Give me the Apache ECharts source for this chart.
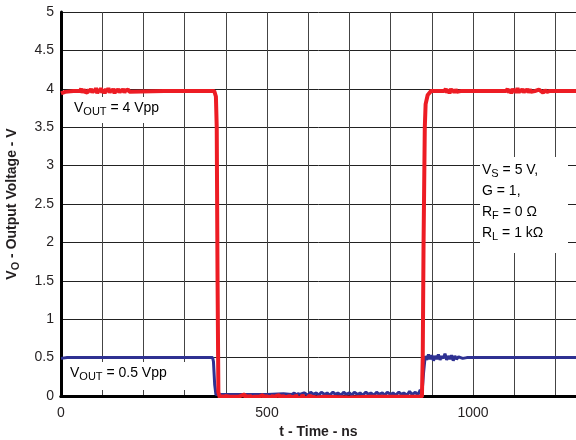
<!DOCTYPE html>
<html>
<head>
<meta charset="utf-8">
<script src="https://cdn.jsdelivr.net/npm/echarts@6/dist/echarts.min.js"></script>
<style>
    html, body { margin: 0; padding: 0; background: #fff; }
    #chart { width: 576px; height: 440px; }
</style>
</head>
<body>
<div id="chart"></div>
<script>
// 时间轴 (ns) 与电压 (V)
const xTicks = [0, 500, 1000];
const yTicks = [0, 0.5, 1, 1.5, 2, 2.5, 3, 3.5, 4, 4.5, 5];

// VOUT = 4 Vpp (red)
const redTime = [
    0, 10, 30, 46, 49, 52, 55, 58, 61, 64,
    67, 70, 73, 76, 79, 82, 85, 88, 91, 94,
    97, 100, 103, 106, 109, 112, 115, 118, 121, 124,
    127, 130, 133, 136, 139, 142, 145, 148, 151, 154,
    157, 160, 163, 166, 170, 250, 372, 376, 378, 380,
    382, 386, 390, 394, 398, 402, 410, 430, 446, 449,
    452, 455, 458, 461, 470, 480, 490, 494, 498, 502,
    506, 510, 514, 518, 522, 526, 530, 534, 538, 542,
    546, 550, 554, 558, 562, 566, 570, 574, 578, 582,
    586, 590, 594, 598, 602, 606, 610, 620, 640, 700,
    750, 800, 876, 878, 880, 883, 885, 890, 898, 930,
    934, 937, 940, 943, 946, 949, 952, 955, 958, 961,
    964, 970, 1080, 1084, 1087, 1090, 1093, 1096, 1099, 1102,
    1105, 1108, 1111, 1114, 1117, 1120, 1123, 1126, 1129, 1132,
    1135, 1138, 1141, 1144, 1150, 1160, 1170, 1175, 1180, 1185,
    1190, 1200, 1250,
];
const redVolt = [
    3.94, 3.96, 3.97, 3.97, 4.00, 3.95, 3.99, 3.96, 3.98, 3.95,
    3.99, 3.96, 4.00, 3.95, 3.99, 3.96, 4.01, 3.94, 3.99, 3.96,
    4.01, 3.95, 3.99, 3.94, 4.00, 3.96, 4.01, 3.95, 3.99, 3.96,
    4.00, 3.94, 3.99, 3.96, 4.00, 3.95, 3.99, 3.96, 4.00, 3.95,
    3.98, 3.96, 3.99, 3.96, 3.97, 3.97, 3.97, 3.90, 3.50, 1.50,
    0.05, -0.03, 0.01, -0.04, 0.00, -0.02, -0.01, -0.01, 0.02, -0.04,
    0.01, -0.03, 0.01, -0.02, -0.01, -0.01, 0.01, -0.03, 0.01, -0.04,
    0.00, -0.03, 0.01, -0.04, 0.00, -0.02, 0.01, -0.04, 0.01, -0.03,
    0.00, -0.04, 0.01, -0.03, 0.00, -0.04, 0.01, -0.02, 0.00, -0.03,
    0.01, -0.02, 0.00, -0.03, 0.00, -0.02, -0.01, -0.02, -0.01, -0.02,
    -0.01, -0.01, -0.01, 0.50, 2.00, 3.50, 3.80, 3.92, 3.97, 3.97,
    4.00, 3.95, 3.99, 3.94, 4.00, 3.96, 3.99, 3.95, 3.99, 3.96,
    3.97, 3.97, 3.97, 4.00, 3.95, 3.99, 3.94, 4.00, 3.96, 3.99,
    3.95, 4.01, 3.95, 3.99, 3.96, 4.00, 3.95, 3.99, 3.96, 4.00,
    3.95, 3.99, 3.96, 3.97, 3.97, 3.99, 3.95, 3.98, 3.96, 3.97,
    3.97, 3.97, 3.97,
];

// VOUT = 0.5 Vpp (blue)
const blueTime = [
    0, 15, 368, 370, 373, 376, 400, 500, 540, 560,
    566, 570, 575, 580, 590, 600, 606, 612, 620, 625,
    632, 640, 646, 652, 660, 666, 672, 680, 686, 692,
    700, 706, 712, 720, 726, 732, 740, 746, 752, 760,
    766, 772, 780, 786, 792, 800, 806, 812, 820, 826,
    832, 840, 846, 852, 860, 866, 870, 872, 876, 880,
    884, 888, 892, 896, 900, 904, 908, 912, 916, 920,
    924, 928, 932, 936, 940, 944, 948, 952, 956, 960,
    965, 975, 985, 1250,
];
const blueVolt = [
    0.49, 0.50, 0.50, 0.45, 0.15, 0.02, 0.02, 0.02, 0.03, 0.02,
    0.04, 0.01, 0.03, 0.02, 0.04, 0.01, 0.05, 0.02, 0.04, 0.01,
    0.05, 0.02, 0.04, 0.01, 0.05, 0.02, 0.04, 0.01, 0.05, 0.02,
    0.04, 0.01, 0.05, 0.02, 0.04, 0.01, 0.05, 0.02, 0.04, 0.01,
    0.05, 0.02, 0.04, 0.01, 0.05, 0.02, 0.04, 0.01, 0.05, 0.02,
    0.04, 0.01, 0.06, 0.02, 0.05, 0.01, 0.03, 0.08, 0.02, 0.30,
    0.52, 0.47, 0.54, 0.48, 0.53, 0.46, 0.52, 0.48, 0.54, 0.47,
    0.52, 0.49, 0.55, 0.47, 0.52, 0.48, 0.53, 0.46, 0.52, 0.48,
    0.51, 0.49, 0.50, 0.50,
];

const zip = (xs, ys) => xs.map((x, i) => [x, ys[i]]);

const chart = echarts.init(document.getElementById("chart"));
const font = "Liberation Sans, Arial, sans-serif";

// 注释文字 (带下标)
const noteStyle = {
    a: { fontSize: 14, fontFamily: font, color: "#231f20", lineHeight: 18 },
    s: { fontSize: 11, fontFamily: font, color: "#231f20", lineHeight: 18, padding: [8, 0, 0, 0] },
};

chart.setOption({
    animation: false,
    grid: { left: 61, right: 0, top: 12, bottom: 44, outerBoundsMode: "none" },
    xAxis: [
        {
            type: "value",
            min: 0,
            max: 1250,
            interval: 100,
            name: "t - Time - ns",
            nameLocation: "middle",
            nameGap: 29,
            nameTextStyle: { fontFamily: font, fontWeight: "bold", fontSize: 14, color: "#231f20" },
            axisLine: { show: true, onZero: false, lineStyle: { color: "#000", width: 3 } },
            axisTick: { show: false },
            axisLabel: {
                fontFamily: font,
                fontSize: 14,
                color: "#231f20",
                margin: 10,
                showMaxLabel: false,
                formatter: (v) => (xTicks.includes(v) ? String(v) : ""),
            },
            splitLine: { show: true, lineStyle: { color: "#444", width: 1 } },
        },
        {
            // 顶部边框
            type: "value",
            position: "top",
            min: 0,
            max: 1250,
            axisLine: { show: true, lineStyle: { color: "#000", width: 3 } },
            axisTick: { show: false },
            axisLabel: { show: false },
            splitLine: { show: false },
        },
    ],
    yAxis: {
        type: "value",
        min: 0,
        max: 5,
        interval: 0.5,
        name: "{b|V}{bs|O}{b| - Output Voltage - V}",
        nameLocation: "middle",
        nameGap: 40,
        nameTextStyle: {
            rich: {
                b: { fontFamily: font, fontWeight: "bold", fontSize: 14, color: "#231f20", lineHeight: 18 },
                bs: { fontFamily: font, fontWeight: "bold", fontSize: 11, color: "#231f20", lineHeight: 18, padding: [8, 0, 0, 0] },
            },
        },
        axisLine: { show: true, lineStyle: { color: "#000", width: 3 } },
        axisTick: { show: false },
        axisLabel: {
            fontFamily: font,
            fontSize: 14,
            color: "#231f20",
            margin: 7,
            formatter: (v) => (yTicks.includes(v) ? String(v) : ""),
        },
        splitLine: { show: true, lineStyle: { color: "#222", width: 1 } },
    },
    series: [
        {
            name: "VOUT = 0.5 Vpp",
            type: "line",
            data: zip(blueTime, blueVolt),
            showSymbol: false,
            lineStyle: { color: "#2e3192", width: 3 },
            z: 3,
        },
        {
            name: "VOUT = 4 Vpp",
            type: "line",
            data: zip(redTime, redVolt),
            showSymbol: false,
            lineStyle: { color: "#ed1c24", width: 4 },
            z: 4,
        },
    ],
    graphic: [
        {
            type: "rect",
            shape: { x: 67, y: 97, width: 112, height: 26 },
            style: { fill: "#fff" },
            z: 1,
        },
        {
            type: "text",
            x: 74,
            y: 99,
            style: { text: "{a|V}{s|OUT}{a| = 4 Vpp}", rich: noteStyle },
            z: 2,
        },
        {
            type: "rect",
            shape: { x: 66, y: 362, width: 120, height: 28 },
            style: { fill: "#fff" },
            z: 1,
        },
        {
            type: "text",
            x: 70,
            y: 364,
            style: { text: "{a|V}{s|OUT}{a| = 0.5 Vpp}", rich: noteStyle },
            z: 2,
        },
        {
            type: "rect",
            shape: { x: 480, y: 157, width: 88, height: 96 },
            style: { fill: "#fff" },
            z: 1,
        },
        {
            type: "text",
            x: 482,
            y: 160,
            style: {
                text: "{a|V}{s|S}{a| = 5 V,}\n{a|G = 1,}\n{a|R}{s|F}{a| = 0 Ω}\n{a|R}{s|L}{a| = 1 kΩ}",
                rich: {
                    a: { fontSize: 14, fontFamily: font, color: "#231f20", lineHeight: 21 },
                    s: { fontSize: 11, fontFamily: font, color: "#231f20", lineHeight: 21, padding: [7, 0, 0, 0] },
                },
            },
            z: 2,
        },
    ],
});
</script>
</body>
</html>
